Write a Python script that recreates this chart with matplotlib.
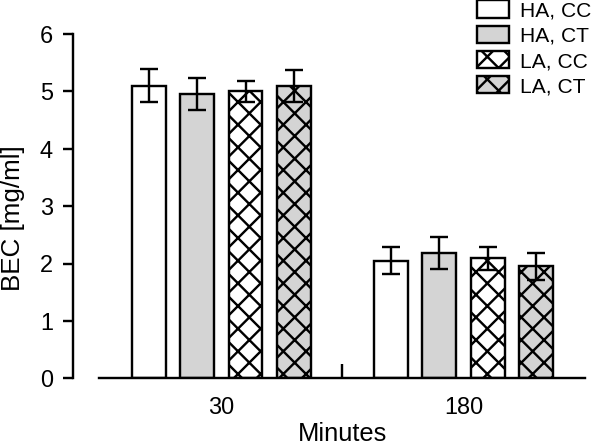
import numpy as np
import matplotlib
matplotlib.use("Agg")
import matplotlib.pyplot as plt

# data
minutes = ["30", "180"]
series = ["HA, CC", "HA, CT", "LA, CC", "LA, CT"]
bec = {
    "HA, CC": [5.10, 2.05],
    "HA, CT": [4.95, 2.19],
    "LA, CC": [5.00, 2.09],
    "LA, CT": [5.10, 1.95],
}
bec_err = {
    "HA, CC": [0.29, 0.24],
    "HA, CT": [0.28, 0.28],
    "LA, CC": [0.18, 0.20],
    "LA, CT": [0.28, 0.24],
}

DPI = 68


def P(px):
    # pixels -> points
    return px * 72.0 / DPI


plt.rcParams['font.family'] = ['Liberation Sans', 'DejaVu Sans']
plt.rcParams['hatch.linewidth'] = P(2.4)

LW = P(2.4)
fills = ["white", "#d4d4d4", "white", "#d4d4d4"]
hatches = [None, None, "x", "x"]

fig = plt.figure(figsize=(591.3 / DPI, 445.3 / DPI), dpi=DPI)
ax = fig.add_axes([99.3 / 591, 1 - 378.3 / 445, (585 - 99.3) / 591, (378.3 - 34.3) / 445])

x = np.arange(len(minutes))
offsets = [-0.3, -0.1, 0.1, 0.3]
width = 0.139

for i, s in enumerate(series):
    ax.bar(x + offsets[i], bec[s], width, color=fills[i], edgecolor="black",
           linewidth=LW, hatch=hatches[i], label=s, zorder=2)
    ax.errorbar(x + offsets[i], bec[s], yerr=bec_err[s], fmt="none", ecolor="black",
                elinewidth=LW, capsize=P(9), capthick=LW, zorder=3)

ax.set_xlim(-0.504, 1.503)
ax.set_ylim(0, 6)
ax.set_xticks(x)
ax.set_xticklabels(minutes)
ax.set_xticks([0.5], minor=True)
ax.set_yticks(range(0, 7))

ax.spines['top'].set_visible(False)
ax.spines['right'].set_visible(False)
ax.spines['left'].set_position(('outward', P(26.6)))
ax.spines['left'].set_linewidth(LW)
ax.spines['bottom'].set_linewidth(LW)

ax.tick_params(axis='y', direction='out', length=P(10), width=LW, pad=P(10),
               labelsize=P(23.5))
ax.tick_params(axis='x', which='major', length=0, pad=P(18), labelsize=P(23.5))
ax.tick_params(axis='x', which='minor', direction='in', length=P(14), width=LW)

ax.set_ylabel("BEC [mg/ml]", fontsize=P(26))
ax.yaxis.set_label_coords((25 - 99.3) / 485.7, (378.3 - 218) / 344)
ax.set_xlabel("Minutes", fontsize=P(25.5), labelpad=P(3))

leg = fig.legend(loc="upper left", bbox_to_anchor=(476.7 / 591, 1 - 0.7 / 445),
                 frameon=False, fontsize=P(21), borderpad=0, borderaxespad=0,
                 handlelength=1.55, handleheight=0.9, labelspacing=0.25,
                 handletextpad=0.5)

fig.savefig("out.png", dpi=DPI)
